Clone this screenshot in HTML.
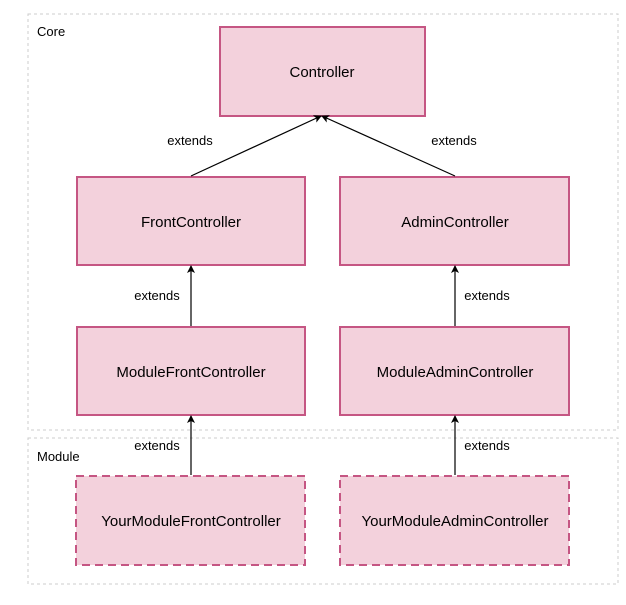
<!DOCTYPE html>
<html><head><style>
body{margin:0;background:#fff;}
</style></head><body>
<svg width="626" height="600" xmlns="http://www.w3.org/2000/svg" font-family="Liberation Sans, Arial, sans-serif">
<defs><marker id="a" markerWidth="8" markerHeight="8" refX="7" refY="4" orient="auto" markerUnits="userSpaceOnUse"><path d="M0,0 L8,4 L0,8 L2,4 Z" fill="#000"/></marker></defs>
<rect x="28" y="14" width="590" height="416" fill="none" stroke="#ccc" stroke-dasharray="3,3"/>
<rect x="28" y="438" width="590" height="146" fill="none" stroke="#ccc" stroke-dasharray="3,3"/>
<text x="37" y="36" font-size="13">Core</text>
<text x="37" y="461" font-size="13">Module</text>
<g fill="#f3d1dc" stroke="#c55683" stroke-width="2">
<rect x="220" y="27" width="205" height="89"/>
<rect x="77" y="177" width="228" height="88"/>
<rect x="340" y="177" width="229" height="88"/>
<rect x="77" y="327" width="228" height="88"/>
<rect x="340" y="327" width="229" height="88"/>
<rect x="76" y="476" width="229" height="89" stroke-dasharray="8,5"/>
<rect x="340" y="476" width="229" height="89" stroke-dasharray="8,5"/>
</g>
<g font-size="15" text-anchor="middle" fill="#000">
<text x="322" y="77">Controller</text>
<text x="191" y="227">FrontController</text>
<text x="455" y="227">AdminController</text>
<text x="191" y="377">ModuleFrontController</text>
<text x="455" y="377">ModuleAdminController</text>
<text x="191" y="526">YourModuleFrontController</text>
<text x="455" y="526">YourModuleAdminController</text>
</g>
<g stroke="#000" stroke-width="1.2" marker-end="url(#a)">
<line x1="191" y1="176" x2="321" y2="116"/>
<line x1="455" y1="176" x2="322" y2="116"/>
<line x1="191" y1="326" x2="191" y2="266"/>
<line x1="455" y1="326" x2="455" y2="266"/>
<line x1="191" y1="475" x2="191" y2="416"/>
<line x1="455" y1="475" x2="455" y2="416"/>
</g>
<g font-size="13" text-anchor="middle">
<text x="190" y="145">extends</text>
<text x="454" y="145">extends</text>
<text x="157" y="300">extends</text>
<text x="487" y="300">extends</text>
<text x="157" y="450">extends</text>
<text x="487" y="450">extends</text>
</g>
</svg>
</body></html>
